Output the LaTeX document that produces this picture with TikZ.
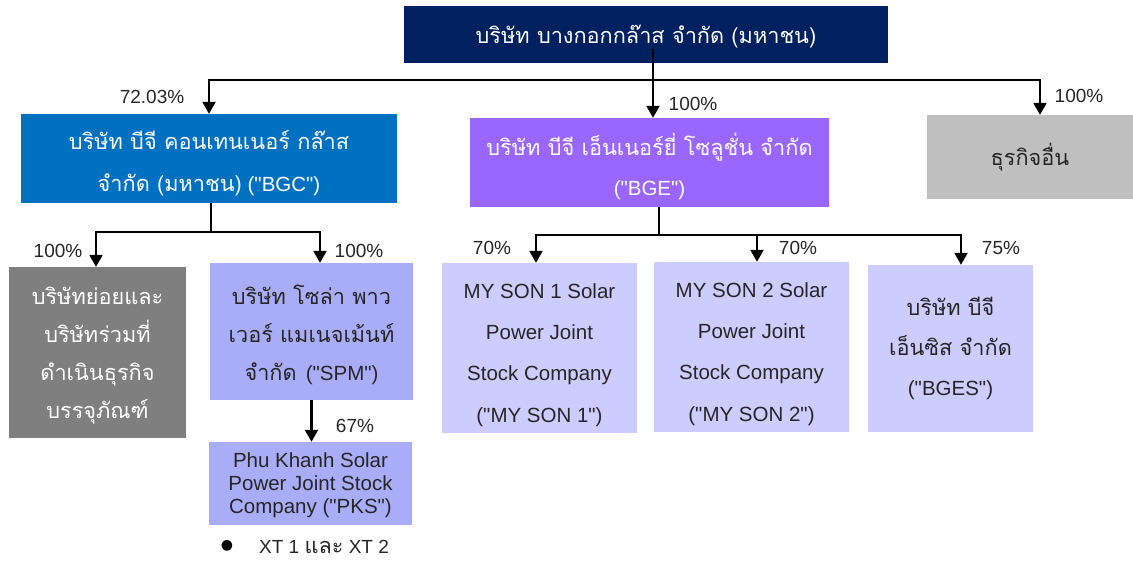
\documentclass[tikz,border=0pt]{standalone}
\usepackage{fontspec}
\setmainfont{Liberation Sans}[Ligatures=TeXOff]
\newfontfamily\thaifont[Script=Thai]{Loma}
\newfontfamily\symfont{DejaVu Sans}
\usetikzlibrary{arrows.meta}
\definecolor{navy}{HTML}{002060}
\definecolor{bgcblue}{HTML}{0070C0}
\definecolor{bgepurple}{HTML}{9966FF}
\definecolor{lightgray}{HTML}{BFBFBF}
\definecolor{darkgray}{HTML}{7F7F7F}
\definecolor{periwinkle}{HTML}{A9ADF8}
\definecolor{lavender}{HTML}{CCCCFF}
\definecolor{txt}{HTML}{262626}
\newcommand\tht[1]{{\thaifont\fontsize{21.7}{\baselineskip}\selectfont #1}}
\newcommand\fs[1]{\fontsize{20.5}{#1}\selectfont}
\begin{document}
\begin{tikzpicture}[x=1pt,y=-1pt,
  box/.style={inner sep=0pt, anchor=center},
  lbl/.style={inner sep=0pt, align=center, text=txt},
  wlbl/.style={lbl, text=white},
  pct/.style={font=\fontsize{19}{22}\selectfont, text=txt, inner sep=0pt},
  trunk/.style={line width=2.4pt},
  arr/.style={line width=2.2pt, -{Triangle[width=13pt,length=12pt]}}]
\useasboundingbox (0,0) rectangle (1133,562);
% boxes
\node[box, fill=navy, minimum width=484pt, minimum height=57pt] (top) at (646,34.5) {};
\node[box, fill=bgcblue, minimum width=376pt, minimum height=89pt] (bgc) at (209,158.5) {};
\node[box, fill=bgepurple, minimum width=359pt, minimum height=89pt] (bge) at (649.5,162.5) {};
\node[box, fill=lightgray, minimum width=206pt, minimum height=84pt] (other) at (1030,157) {};
\node[box, fill=darkgray, minimum width=177pt, minimum height=171pt] (sub) at (97.5,352.5) {};
\node[box, fill=periwinkle, minimum width=203pt, minimum height=137pt] (spm) at (311.5,331.5) {};
\node[box, fill=periwinkle, minimum width=203pt, minimum height=83pt] (pks) at (310.5,483.5) {};
\node[box, fill=lavender, minimum width=195pt, minimum height=170pt] (ms1) at (539.5,348) {};
\node[box, fill=lavender, minimum width=195pt, minimum height=170pt] (ms2) at (751.5,347) {};
\node[box, fill=lavender, minimum width=165pt, minimum height=167pt] (bges) at (950.5,348.5) {};
% box texts
\node[wlbl, font=\fs{41}] (topt) at ([yshift=-2pt]top.center) {\tht{บริษัท บางกอกกล๊าส จำกัด (มหาชน)}};
\node[wlbl, font=\fs{42}] (bgct) at ([yshift=-5pt]bgc.center) {\tht{บริษัท บีจี คอนเทนเนอร์ กล๊าส}\\\tht{จำกัด (มหาชน)} ("BGC")};
\node[wlbl, font=\fs{40}] (bget) at ([yshift=-4pt]bge.center) {\tht{บริษัท บีจี เอ็นเนอร์ยี่ โซลูชั่น จำกัด}\\("BGE")};
\node[lbl, font=\fs{40}] (othert) at (other.center) {\tht{ธุรกิจอื่น}};
\node[wlbl, font=\fs{38}] (subt) at ([yshift=-3pt]sub.center) {\tht{บริษัทย่อยและ}\\\tht{บริษัทร่วมที่}\\\tht{ดำเนินธุรกิจ}\\\tht{บรรจุภัณฑ์}};
\node[lbl, font=\fs{38}] (spmt) at ([yshift=-3.5pt]spm.center) {\tht{บริษัท โซล่า พาว}\\\tht{เวอร์ แมเนจเม้นท์}\\\tht{จำกัด}\, ("SPM")};
\node[lbl, font=\fs{23}] (pkst) at ([yshift=-2pt]pks.center) {Phu Khanh Solar\\Power Joint Stock\\Company ("PKS")};
\node[lbl, font=\fs{41.3}] (ms1t) at ([yshift=-7pt]ms1.center) {MY SON 1 Solar\\Power Joint\\Stock Company\\("MY SON 1")};
\node[lbl, font=\fs{41.3}] (ms2t) at ([yshift=-7pt]ms2.center) {MY SON 2 Solar\\Power Joint\\Stock Company\\("MY SON 2")};
\node[lbl, font=\fs{40}] (bgest) at (bges.center) {\tht{บริษัท บีจี}\\\tht{เอ็นซิส จำกัด}\\("BGES")};
% junctions
\coordinate (t0) at (653,49);
\coordinate (j0) at (653,80);
\coordinate (j1) at (211,232);
\coordinate (j2) at (659,235);
% connectors
\draw[trunk] (t0) -- (j0);
\draw[arr] (j0) -| (bgc.north);
\draw[arr] (j0) -- (j0 |- bge.north);
\draw[arr] (j0) -| ([xshift=10pt]other.north);
\draw[trunk] (bgc.south -| j1) -- (j1);
\draw[arr] (j1) -| ([xshift=-1.5pt]sub.north);
\draw[arr] (j1) -| ([xshift=8.5pt]spm.north);
\draw[arr] (spm.south) -- (spm.south |- pks.north);
\draw[trunk] (bge.south -| j2) -- (j2);
\draw[arr] (j2) -| ([xshift=-3.5pt]ms1.north);
\draw[arr] (j2) -| ([xshift=5.5pt]ms2.north);
\draw[arr] (j2) -| ([xshift=10.5pt]bges.north);
% labels
\node[pct] (p1) at (152,97) {72.03\%};
\node[pct] (p2) at (693,104) {100\%};
\node[pct] (p3) at (1079,96) {100\%};
\node[pct] (p4) at (58,251) {100\%};
\node[pct] (p5) at (359,251) {100\%};
\node[pct] (p6) at (355,426) {67\%};
\node[pct] (p7) at (492,248) {70\%};
\node[pct] (p8) at (798,248) {70\%};
\node[pct] (p9) at (1001,248) {75\%};
\node[inner sep=0pt, font=\symfont\fontsize{14}{16}\selectfont] (bul) at (227,546) {●};
\node[pct, anchor=west] (xt) at (259,547) {XT 1 \tht{และ} XT 2};
\end{tikzpicture}
\end{document}
